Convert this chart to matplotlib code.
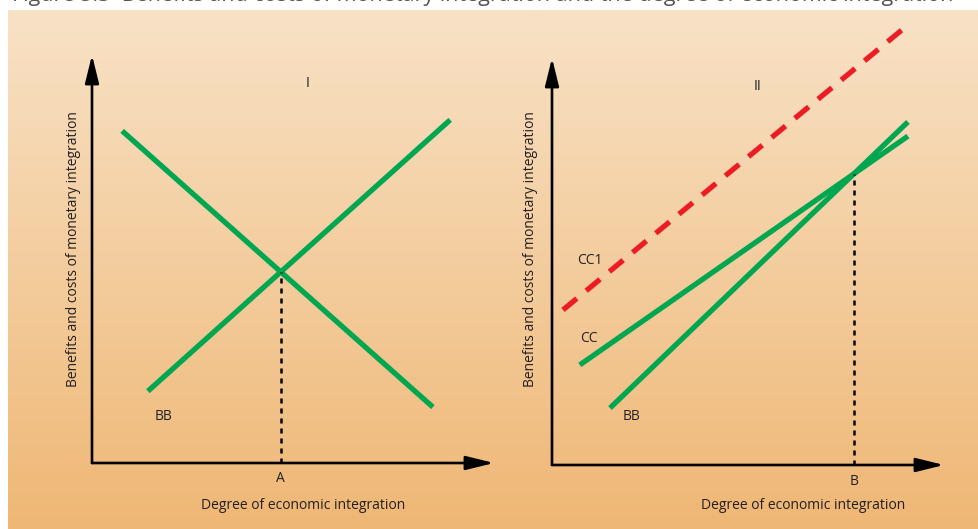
import numpy as np
import matplotlib
matplotlib.use("Agg")
import matplotlib.pyplot as plt

# ---- data (axis units 0..10 on each panel) ----
left_cc_x = [0.75, 8.48]
left_cc_y = [8.14, 1.37]
left_bb_x = [1.39, 8.91]
left_bb_y = [1.76, 8.41]

right_cc1_x = [0.28, 8.95]
right_cc1_y = [3.81, 10.71]
right_cc_x = [0.71, 9.08]
right_cc_y = [2.46, 8.08]
right_bb_x = [1.48, 9.08]
right_bb_y = [1.40, 8.43]

panel_titles = ["I", "II"]
point_labels = ["A", "B"]
x_label = "Degree of economic integration"
y_label = "Benefits and costs of monetary integration"
fig_title = "Figure 5.3  Benefits and costs of monetary integration and the degree of economic integration"

GREEN = "#00a650"
RED = "#ed1c24"
TXT = "#231f20"

plt.rcParams["font.family"] = ["Open Sans", "DejaVu Sans"]

W, H = 979, 529
fig = plt.figure(figsize=(W / 100, H / 100), dpi=100)


def fx(px):
    return px / W


def fy(py):
    return 1 - py / H


# gradient background panel
bg = fig.add_axes([fx(8), 0, 1 - fx(8), fy(10)])
top = np.array([248, 226, 198]) / 255
bot = np.array([239, 183, 117]) / 255
t = np.linspace(0, 1, 256)[:, None]
grad = (top[None, :] * (1 - t) + bot[None, :] * t)[:, None, :]
bg.imshow(grad, aspect="auto", extent=[0, 1, 0, 1])
bg.set_axis_off()

# heading running off the top edge
fig.text(fx(12), fy(0.5), fig_title, fontsize=15.5, color="#555555",
         ha="left", va="baseline")


def make_panel(x0, y0, x1, y1):
    # x0,y0: origin pixel; x1: arrow tip x; y1: arrow tip y
    ax = fig.add_axes([fx(x0), fy(y0), fx(x1) - fx(x0), fy(y1) - fy(y0)])
    ax.set_xlim(0, 10)
    ax.set_ylim(0, 10)
    ax.set_axis_off()
    ax.patch.set_alpha(0)
    style = "-|>,head_length=1.7,head_width=0.42"
    ax.annotate("", xy=(10, 0), xytext=(0, 0),
                arrowprops=dict(arrowstyle=style, lw=1.9, color="black",
                                shrinkA=0, shrinkB=0))
    ax.annotate("", xy=(0, 10), xytext=(0, 0),
                arrowprops=dict(arrowstyle=style, lw=1.9, color="black",
                                shrinkA=0, shrinkB=0))
    return ax


def intersect(x1, y1, x2, y2):
    m1 = (y1[1] - y1[0]) / (x1[1] - x1[0])
    m2 = (y2[1] - y2[0]) / (x2[1] - x2[0])
    x = (y2[0] - m2 * x2[0] - y1[0] + m1 * x1[0]) / (m1 - m2)
    return x, y1[0] + m1 * (x - x1[0])


fs = 10

# ---- panel I ----
axL = make_panel(92, 463, 494, 55)
axL.plot(left_cc_x, left_cc_y, color=GREEN, lw=3.8, solid_capstyle="butt")
axL.plot(left_bb_x, left_bb_y, color=GREEN, lw=3.8, solid_capstyle="butt")
ix, iy = intersect(left_cc_x, left_cc_y, left_bb_x, left_bb_y)
axL.plot([ix, ix], [0, iy], color="black", lw=1.8, linestyle=(0, (2, 2)))
axL.text(ix, -0.38, point_labels[0], ha="center", va="center", fontsize=fs, color=TXT)
axL.text(5.35, 9.3, panel_titles[0], ha="center", va="center", fontsize=fs, color=TXT)
axL.text(1.78, 1.15, "BB", ha="center", va="center", fontsize=fs, color=TXT)
axL.text(5.25, -1.05, x_label, ha="center", va="center", fontsize=fs, color=TXT)
axL.text(-0.47, 5.25, y_label, ha="center", va="center", rotation=90, fontsize=fs, color=TXT)

# ---- panel II ----
axR = make_panel(552, 465, 944, 58)
axR.plot(right_cc1_x, right_cc1_y, color=RED, lw=3.8, linestyle=(0, (3.4, 2.3)),
         clip_on=False)
axR.plot(right_cc_x, right_cc_y, color=GREEN, lw=3.8, solid_capstyle="butt")
axR.plot(right_bb_x, right_bb_y, color=GREEN, lw=3.8, solid_capstyle="butt")
ix, iy = intersect(right_cc_x, right_cc_y, right_bb_x, right_bb_y)
axR.plot([ix, ix], [0, iy], color="black", lw=1.8, linestyle=(0, (2, 2)))
axR.text(ix, -0.4, point_labels[1], ha="center", va="center", fontsize=fs, color=TXT)
axR.text(5.23, 9.3, panel_titles[1], ha="center", va="center", fontsize=fs, color=TXT)
axR.text(0.97, 5.02, "CC1", ha="center", va="center", fontsize=fs, color=TXT)
axR.text(0.95, 3.1, "CC", ha="center", va="center", fontsize=fs, color=TXT)
axR.text(2.02, 1.2, "BB", ha="center", va="center", fontsize=fs, color=TXT)
axR.text(6.4, -1.0, x_label, ha="center", va="center", fontsize=fs, color=TXT)
axR.text(-0.55, 5.3, y_label, ha="center", va="center", rotation=90, fontsize=fs, color=TXT)

fig.savefig("out.png", dpi=100)
